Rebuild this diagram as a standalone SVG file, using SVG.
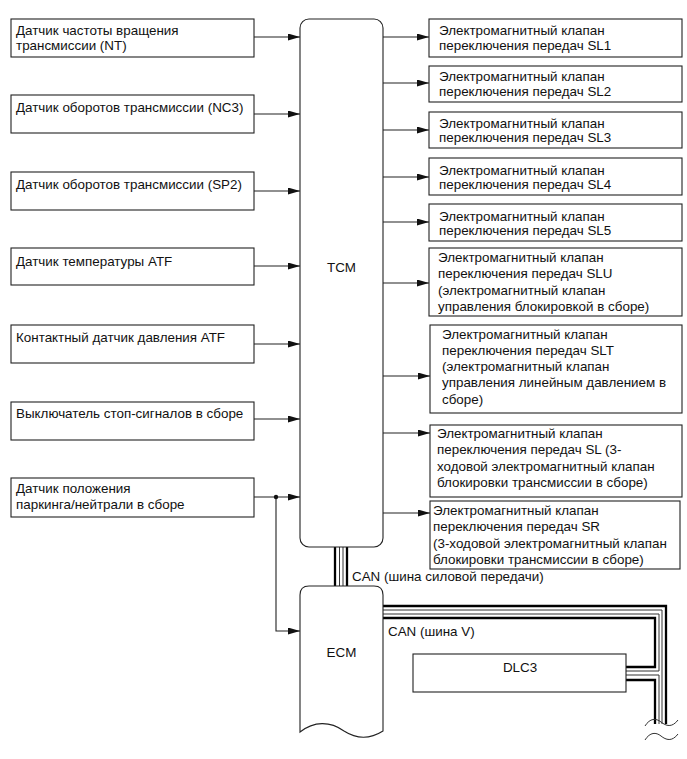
<svg xmlns="http://www.w3.org/2000/svg" width="687" height="759" viewBox="0 0 687 759">
<defs>
<style>
.box{fill:#fff;stroke:#222;stroke-width:1.1}
.t{font-family:"Liberation Sans",Arial,sans-serif;font-size:13.4px;fill:#111}
.c{text-anchor:middle}
.w{fill:none;stroke:#222;stroke-width:1.1}
.thk{fill:none;stroke:#000;stroke-width:2.3}
.thn{fill:none;stroke:#333;stroke-width:1}
</style>
<marker id="ah" markerUnits="userSpaceOnUse" markerWidth="12" markerHeight="8" refX="12" refY="3.5" orient="auto">
<path d="M0,0 L12,3.5 L0,7 z" fill="#111"/>
</marker>
</defs>
<rect width="687" height="759" fill="#fff"/>

<g id="connectors">
<path class="w" d="M254,37 H300" marker-end="url(#ah)"/>
<path class="w" d="M254,114 H300" marker-end="url(#ah)"/>
<path class="w" d="M254,191 H300" marker-end="url(#ah)"/>
<path class="w" d="M254,266 H300" marker-end="url(#ah)"/>
<path class="w" d="M254,344 H300" marker-end="url(#ah)"/>
<path class="w" d="M254,419 H300" marker-end="url(#ah)"/>
<path class="w" d="M254,497 H300" marker-end="url(#ah)"/>
<path class="w" d="M276,497 V631 H300" marker-end="url(#ah)"/>
<circle cx="276" cy="497" r="2.2" fill="#111"/>
<path class="w" d="M383,37 H429" marker-end="url(#ah)"/>
<path class="w" d="M383,83 H429" marker-end="url(#ah)"/>
<path class="w" d="M383,130 H429" marker-end="url(#ah)"/>
<path class="w" d="M383,177 H429" marker-end="url(#ah)"/>
<path class="w" d="M383,222 H429" marker-end="url(#ah)"/>
<path class="w" d="M383,283 H429" marker-end="url(#ah)"/>
<path class="w" d="M383,376 H430" marker-end="url(#ah)"/>
<path class="w" d="M383,433 H430" marker-end="url(#ah)"/>
<path class="w" d="M383,513 H430" marker-end="url(#ah)"/>
<g id="can-powertrain">
<path class="thk" d="M335,547 V586"/>
<path class="thn" d="M339.5,547 V586"/>
<path class="thn" d="M343,547 V586"/>
<path class="thk" d="M347,547 V586"/>
</g>
<g id="can-v">
<path class="thk" d="M383,606 H666 V724"/>
<path class="thn" d="M383,610 H662 V724"/>
<path class="thn" d="M383,614 H659 V671 H626"/>
<path class="thk" d="M383,618 H655 V667 H626"/>
<path class="thn" d="M626,675 H659 V724"/>
<path class="thk" d="M626,680 H655 V724"/>
<path class="thn" d="M645,726 C650,718 656,718 661,722 C666,726 672,728 678,720"/>
<path class="thn" d="M645,740 C650,732 656,732 661,736 C666,740 672,742 678,734"/>
</g>
</g>

<g id="n1"><rect class="box" x="11" y="19" width="243" height="38"/>
<text class="t" x="16" y="35">Датчик частоты вращения</text><text class="t" x="16" y="50">трансмиссии (NT)</text></g>
<g id="n2"><rect class="box" x="11" y="95" width="243" height="38"/>
<text class="t" x="16" y="112">Датчик оборотов трансмиссии (NC3)</text></g>
<g id="n3"><rect class="box" x="11" y="172" width="243" height="38"/>
<text class="t" x="16" y="189">Датчик оборотов трансмиссии (SP2)</text></g>
<g id="n4"><rect class="box" x="11" y="248" width="243" height="37"/>
<text class="t" x="16" y="266">Датчик температуры ATF</text></g>
<g id="n5"><rect class="box" x="11" y="325" width="243" height="38"/>
<text class="t" x="16" y="342">Контактный датчик давления ATF</text></g>
<g id="n6"><rect class="box" x="11" y="402" width="243" height="38"/>
<text class="t" x="16" y="418">Выключатель стоп-сигналов в сборе</text></g>
<g id="n7"><rect class="box" x="11" y="478" width="243" height="39"/>
<text class="t" x="16" y="493">Датчик положения</text><text class="t" x="16" y="509">паркинга/нейтрали в сборе</text></g>

<g id="tcm"><rect class="box" x="300" y="19" width="83" height="528" rx="9" ry="9"/>
<text class="t c" x="341.5" y="272">TCM</text></g>

<g id="ecm"><path class="box" d="M300,732 V595 Q300,586 309,586 H374 Q383,586 383,595 V731 C372,738 358,740 344,731 C330,721 314,721 300,732 Z"/>
<text class="t c" x="341.5" y="657">ECM</text></g>

<g id="dlc3"><rect class="box" x="413" y="654" width="213" height="38"/>
<text class="t c" x="520" y="672">DLC3</text></g>

<g id="sl1"><rect class="box" x="429" y="19" width="253" height="38"/>
<text class="t" x="439" y="35">Электромагнитный клапан</text><text class="t" x="439" y="50">переключения передач SL1</text></g>
<g id="sl2"><rect class="box" x="429" y="66" width="253" height="36"/>
<text class="t" x="439" y="81">Электромагнитный клапан</text><text class="t" x="439" y="96">переключения передач SL2</text></g>
<g id="sl3"><rect class="box" x="429" y="112" width="253" height="36"/>
<text class="t" x="439" y="128">Электромагнитный клапан</text><text class="t" x="439" y="142">переключения передач SL3</text></g>
<g id="sl4"><rect class="box" x="429" y="158" width="253" height="37"/>
<text class="t" x="439" y="175">Электромагнитный клапан</text><text class="t" x="439" y="189">переключения передач SL4</text></g>
<g id="sl5"><rect class="box" x="429" y="204" width="253" height="37"/>
<text class="t" x="439" y="221">Электромагнитный клапан</text><text class="t" x="439" y="235">переключения передач SL5</text></g>
<g id="slu"><rect class="box" x="429" y="248" width="253" height="68"/>
<text class="t" x="438" y="262">Электромагнитный клапан</text><text class="t" x="438" y="278">переключения передач SLU</text><text class="t" x="438" y="295">(электромагнитный клапан</text><text class="t" x="438" y="311">управления блокировкой в сборе)</text></g>
<g id="slt"><rect class="box" x="430" y="325" width="252" height="88"/>
<text class="t" x="442" y="339">Электромагнитный клапан</text><text class="t" x="442" y="355">переключения передач SLT</text><text class="t" x="442" y="371">(электромагнитный клапан</text><text class="t" x="442" y="387">управления линейным давлением в</text><text class="t" x="442" y="404">сборе)</text></g>
<g id="sl"><rect class="box" x="430" y="425" width="252" height="72"/>
<text class="t" x="437" y="438">Электромагнитный клапан</text><text class="t" x="437" y="454">переключения передач SL (3-</text><text class="t" x="437" y="471">ходовой электромагнитный клапан</text><text class="t" x="437" y="487">блокировки трансмиссии в сборе)</text></g>
<g id="sr"><rect class="box" x="430" y="501" width="250" height="68"/>
<text class="t" x="433" y="515">Электромагнитный клапан</text><text class="t" x="433" y="531">переключения передач SR</text><text class="t" x="433" y="548">(3-ходовой электромагнитный клапан</text><text class="t" x="433" y="564">блокировки трансмиссии в сборе)</text></g>

<text class="t" x="352" y="581">CAN (шина силовой передачи)</text>
<text class="t" x="388" y="636">CAN (шина V)</text>
</svg>
